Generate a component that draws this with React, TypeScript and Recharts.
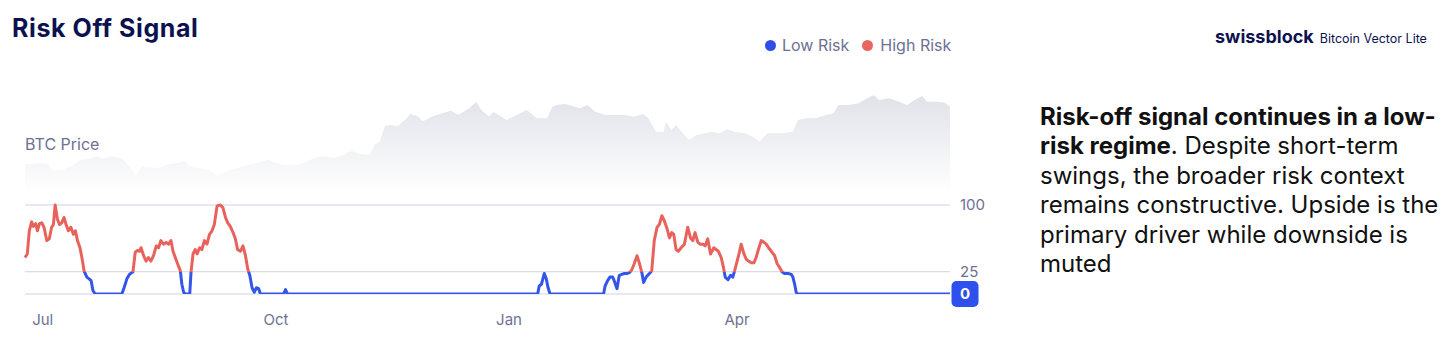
import { ComposedChart, Area, Line, XAxis, YAxis, ReferenceLine } from "recharts";

// day 0 = 24 Jun 2024
const riskDays = [
  0, 0.9, 1.7, 2.6, 3.3, 4.2, 4.9, 5.7, 6.6, 7.5, 8.6, 9.6, 10.5, 11.2, 11.9, 12.8, 13.6, 14.5, 15.4, 16.2,
  17.1, 18.1, 19.1, 19.9, 20.7, 21.7, 22.7, 23.3, 24.4, 25.3, 26.1, 26.8, 27.7, 38.2, 39.1, 40.2, 41.2, 42.6,
  43.5, 44.4, 45.2, 45.8, 46.8, 47.8, 48.7, 49.7, 50.7, 51.8, 52.7, 53.6, 54.7, 55.7, 56.7, 57.6, 58.4, 59.3,
  60.2, 61.3, 61.9, 62.6, 63.2, 65, 65.5, 66.3, 67.2, 67.9, 68.9, 69.8, 70.8, 71.8, 72.8, 73.8, 74.7, 75.8,
  77.1, 78.1, 79.1, 80, 81, 82.1, 83, 83.9, 85, 86, 87, 87.9, 88.7, 89.6, 90.5, 91.3, 92.2, 92.9, 102, 102.8,
  103.6, 202.3, 202.9, 203.8, 204.9, 205.7, 206.4, 207.2, 228.3, 228.9, 229.9, 230.8, 231.9, 232.5, 233.6,
  234.5, 235.5, 236.5, 237.5, 238.5, 239.4, 240.4, 241.5, 242.4, 243.4, 244.1, 245.1, 246.4, 247.3, 248.3,
  249.4, 250.3, 251.3, 252.3, 253.4, 254.3, 255.2, 256, 256.9, 257.8, 258.9, 260.2, 261.5, 262.6, 263.5,
  264.4, 265.5, 266.5, 267.5, 268.4, 269.4, 270.5, 271.8, 272.7, 273.6, 274.7, 275.6, 276.3, 277.4, 278.4,
  279.3, 280, 281, 281.9, 282.6, 283.7, 284.6, 285.5, 286.6, 287.6, 288.5, 289.4, 290.5, 291.6, 292.5, 293.4,
  294.5, 295.8, 296.8, 297.7, 298.7, 299.7, 301.1, 302.4, 303, 303.7, 304.3, 304.7, 365,
];
const riskValues = [
  41, 45, 71, 81, 76, 79, 71, 79, 80, 75, 60, 62, 75, 78, 100, 84, 78, 80, 86, 78,
  71, 75, 67, 71, 60, 52, 37, 26, 19, 17, 15, 4, 0, 0, 7, 17, 22, 25,
  47, 49, 48, 52, 43, 37, 41, 37, 43, 54, 52, 60, 56, 58, 56, 60, 48, 41,
  34, 26, 11, 2, 0, 0, 24, 45, 50, 45, 52, 50, 60, 56, 67, 71, 78, 99,
  100, 97, 86, 80, 76, 69, 62, 50, 48, 54, 43, 28, 21, 7, 2, 7, 6, 0, 0, 5,
  0, 0, 9, 11, 23, 17, 7, 0, 0, 9, 15, 19, 19, 15, 6,
  21, 22, 23, 23, 24, 27, 34, 43, 35, 24, 13, 19, 23, 26, 60,
  75, 78, 88, 82, 73, 63, 69, 67, 50, 48, 52, 56, 75, 63, 60,
  69, 58, 56, 56, 54, 62, 45, 52, 50, 48, 41, 30, 19, 16, 21,
  19, 26, 37, 47, 56, 45, 39, 37, 35, 35, 41, 50, 60, 58, 56, 52,
  48, 43, 34, 30, 25, 23, 23, 22, 19, 11, 2, 0, 0,
];

const priceDays = [
  0, 6, 9, 11, 15, 19, 22, 26, 28, 31, 34, 38, 40, 44, 46, 49, 53, 57, 60, 63, 65, 68, 72, 76, 80, 84, 88,
  92, 96, 98, 102, 106, 110, 114, 118, 122, 126, 129, 132, 136, 138, 140, 142, 144, 147, 150, 152, 155, 157,
  161, 165, 168, 171, 175, 178, 180, 183, 185, 190, 194, 198, 202, 206, 208, 210, 213, 217, 219, 222, 225,
  229, 233, 237, 240, 244, 246, 249, 252, 253, 255, 257, 259, 262, 265, 268, 271, 274, 277, 280, 284, 287,
  290, 291, 293, 296, 299, 303, 305, 308, 312, 316, 319, 321, 325, 329, 331, 335, 337, 341, 345, 348, 351,
  354, 356, 360, 363, 365,
];
const priceValues = [
  60200, 61500, 60700, 55800, 56600, 59800, 63900, 64600, 66300, 64600, 66300, 65100, 61500, 52500, 59000,
  58300, 57800, 60700, 61500, 62700, 59000, 57800, 56600, 52500, 55800, 57800, 60200, 61500, 63900, 62200,
  60200, 59800, 61500, 65100, 66300, 65100, 67500, 70400, 68000, 67500, 74800, 77300, 88200, 89400, 88200,
  93100, 97200, 95500, 91900, 95500, 98000, 99600, 96700, 101100, 106000, 100400, 95500, 98700, 92800, 96500,
  100100, 94100, 94100, 102600, 103800, 104500, 102600, 101400, 103800, 98900, 96500, 96500, 96500, 95300,
  97200, 94100, 84300, 84300, 91600, 85500, 89200, 84300, 78200, 81900, 83100, 84300, 83100, 86100, 84300,
  83100, 80700, 77000, 79500, 83100, 83100, 83100, 84300, 92800, 94100, 94100, 96500, 97700, 103800, 103800,
  105000, 107400, 111100, 107400, 108700, 106200, 103800, 107400, 110400, 106200, 106200, 105500, 102600,
];

const tickDays = [7, 99, 191, 281];
const tickLabels = ["Jul", "Oct", "Jan", "Apr"];
const riskTicks = [0, 25, 100];

const riskData = riskDays.map((day, i) => ({ day, risk: riskValues[i] }));
const priceData = priceDays.map((day, i) => ({ day, price: priceValues[i] }));

const NAVY = "#0c124f";
const MUTED = "#6e7191";
const BLUE = "#3356e8";
const RED = "#e8625b";

function RiskTick({ x, y, payload }: any) {
  if (payload.value === 0) {
    return (
      <g>
        <rect x={x - 8.5} y={y - 13} width={27} height={26} rx={5} fill="#2d50ee" />
        <text x={x + 5} y={y} dy="0.36em" textAnchor="middle" fill="#fff" fontSize={15} fontWeight={700}>
          0
        </text>
      </g>
    );
  }
  return (
    <text x={x} y={y} dy="0.36em" textAnchor="start" fill={MUTED} fontSize={15}>
      {payload.value}
    </text>
  );
}

export default function App() {
  return (
    <div
      style={{
        position: "absolute",
        left: 0,
        top: 0,
        width: 1456,
        height: 359,
        background: "#fff",
        fontFamily: "Inter, sans-serif",
        overflow: "hidden",
      }}
    >
      <div
        style={{
          position: "absolute",
          left: 12,
          top: 16,
          fontSize: 25,
          lineHeight: "24px",
          fontWeight: 700,
          letterSpacing: 0.6,
          color: NAVY,
        }}
      >
        Risk Off Signal
      </div>

      <div style={{ position: "absolute", left: 1215, top: 27, display: "flex", alignItems: "baseline", color: NAVY }}>
        <span style={{ fontSize: 18, fontWeight: 700, lineHeight: "20px" }}>swissblock</span>
        <span style={{ fontSize: 12.5, marginLeft: 6, lineHeight: "20px" }}>Bitcoin Vector Lite</span>
      </div>

      <div style={{ position: "absolute", left: 765, top: 37, display: "flex", alignItems: "center", fontSize: 16, lineHeight: "16px", color: MUTED }}>
        <span style={{ width: 11, height: 11, borderRadius: 6, background: "#2f4ee9", display: "inline-block", marginRight: 6 }} />
        <span>Low Risk</span>
        <span style={{ width: 11, height: 11, borderRadius: 6, background: "#e8665f", display: "inline-block", marginLeft: 13, marginRight: 7 }} />
        <span>High Risk</span>
      </div>

      <div style={{ position: "absolute", left: 25, top: 136, fontSize: 16, lineHeight: "16px", color: MUTED }}>BTC Price</div>

      <div style={{ position: "absolute", left: 0, top: 85 }}>
        <ComposedChart width={1010} height={260} margin={{ top: 8, right: 0, bottom: 11, left: 25 }}>
          <defs>
            <linearGradient id="priceGrad" x1="0" y1="0" x2="0" y2="1">
              <stop offset="0%" stopColor="#c9ccd8" stopOpacity={0.95} />
              <stop offset="100%" stopColor="#c9ccd8" stopOpacity={0} />
            </linearGradient>
            <linearGradient id="riskGrad" x1="0" y1="0" x2="0" y2="1">
              <stop offset="0%" stopColor={RED} />
              <stop offset="75%" stopColor={RED} />
              <stop offset="75%" stopColor={BLUE} />
              <stop offset="100%" stopColor={BLUE} />
            </linearGradient>
          </defs>
          <XAxis
            type="number"
            dataKey="day"
            domain={[0, 365]}
            ticks={tickDays}
            interval={0}
            tickFormatter={(v: number) => tickLabels[tickDays.indexOf(v)]}
            axisLine={false}
            tickLine={false}
            tickMargin={14}
            height={40}
            tick={{ fill: MUTED, fontSize: 15 }}
          />
          <YAxis yAxisId="price" hide domain={[-34160, 112550]} allowDataOverflow />
          <YAxis
            yAxisId="risk"
            orientation="right"
            domain={[0, 225.8]}
            ticks={riskTicks}
            interval={0}
            allowDataOverflow
            axisLine={false}
            tickLine={false}
            tickSize={0}
            tickMargin={10}
            width={60}
            tick={<RiskTick />}
          />
          {riskTicks.map((v) => (
            <ReferenceLine key={v} yAxisId="risk" y={v} stroke="#cfd1e5" strokeWidth={1} />
          ))}
          <Area
            yAxisId="price"
            data={priceData}
            dataKey="price"
            type="linear"
            baseValue={40000}
            stroke="none"
            fill="url(#priceGrad)"
            isAnimationActive={false}
          />
          <Line
            yAxisId="risk"
            data={riskData}
            dataKey="risk"
            type="linear"
            stroke="url(#riskGrad)"
            strokeWidth={3}
            strokeLinejoin="round"
            dot={false}
            activeDot={false}
            isAnimationActive={false}
          />
        </ComposedChart>
      </div>

      <div style={{ position: "absolute", left: 1040, top: 102, width: 416, fontSize: 24, lineHeight: "29.4px", color: "#111" }}>
        <b>Risk-off signal continues in a low-</b>
        <br />
        <b>risk regime</b>. Despite short-term
        <br />
        swings, the broader risk context
        <br />
        remains constructive. Upside is the
        <br />
        primary driver while downside is
        <br />
        muted
      </div>
    </div>
  );
}
